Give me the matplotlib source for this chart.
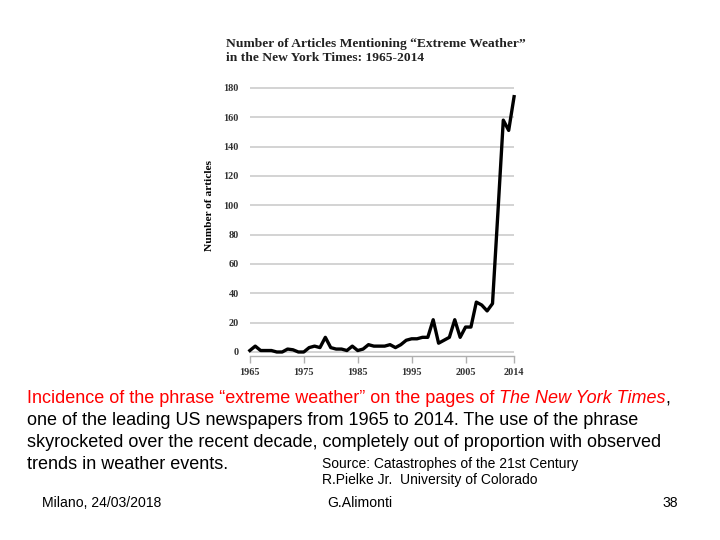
import numpy as np
import matplotlib
matplotlib.use("Agg")
import matplotlib.pyplot as plt

years = np.arange(1965, 2015)
counts = [1, 4, 1, 1, 1, 0, 0, 2, 1.5, 0,
          0, 3, 4, 3, 10, 3, 2, 2, 1, 4,
          1, 2, 5, 4, 4, 4, 5, 3, 5, 8,
          9, 9, 10, 10, 22, 6, 8, 10, 22, 10,
          17, 17, 34, 32, 28, 33, 95, 158, 151, 174]
xticks = [1965, 1975, 1985, 1995, 2005, 2014]
yticks = list(range(0, 181, 20))

serif = "Liberation Serif"
sans = "Liberation Sans"

fig = plt.figure(figsize=(7.2, 5.4), dpi=100)
ax = fig.add_axes([0.347, 0.340, 0.367, 0.500])

ax.plot(years, counts, color="black", lw=2.4, solid_joinstyle="round", zorder=3, clip_on=False)
ax.set_xlim(1965, 2014)
ax.set_ylim(-3, 181)
ax.set_xticks(xticks)
ax.set_yticks(yticks)
ax.yaxis.grid(True, color="#c8c8c8", lw=1.1)
ax.set_axisbelow(True)
for s in ["top", "right", "left"]:
    ax.spines[s].set_visible(False)
ax.spines["bottom"].set_color("#b0b0b0")
ax.spines["bottom"].set_linewidth(1.0)
ax.tick_params(axis="x", direction="out", length=5, color="#b0b0b0", width=1.0, pad=3)
ax.tick_params(axis="y", length=0, pad=8)
for lab in ax.get_xticklabels() + ax.get_yticklabels():
    lab.set_fontfamily(serif)
    lab.set_fontweight("bold")
    lab.set_fontsize(7.4)
    lab.set_color("#333333")
ax.set_ylabel("Number of articles", fontfamily=serif, fontweight="bold", fontsize=8.2)
ax.yaxis.set_label_coords(-0.135, 0.56)

fig.text(226 / 720, 1 - 51 / 540, "Number of Articles Mentioning \u201cExtreme Weather\u201d\nin the New York Times: 1965-2014",
         fontfamily=serif, fontweight="bold", fontsize=9.7, color="#222222", va="center", ha="left", linespacing=1.2)

# caption
fs = 13.0
t1 = fig.text(27 / 720, 1 - 407 / 540, "Incidence of the phrase \u201cextreme weather\u201d on the pages of ",
              fontfamily=sans, fontsize=fs, color="red", va="bottom")
t2 = fig.text(0, 0, "The New York Times", fontfamily=sans, fontsize=fs, color="red", style="italic", va="bottom")
t3 = fig.text(0, 0, ",", fontfamily=sans, fontsize=fs, color="black", va="bottom")
fig.canvas.draw()
r = fig.canvas.get_renderer()
bb = t1.get_window_extent(r)
t2.set_position((bb.x1 / 720, bb.y0 / 540))
bb2 = t2.get_window_extent(r)
t3.set_position((bb2.x1 / 720, bb.y0 / 540))

lines = ["one of the leading US newspapers from 1965 to 2014. The use of the phrase",
         "skyrocketed over the recent decade, completely out of proportion with observed",
         "trends in weather events."]
for i, ln in enumerate(lines):
    fig.text(27 / 720, 1 - (429 + 22 * i) / 540, ln, fontfamily=sans, fontsize=fs, color="black", va="bottom")

fig.text(322 / 720, 1 - 471 / 540, "Source: Catastrophes of the 21st Century", fontfamily=sans, fontsize=10.0, va="bottom")
fig.text(322 / 720, 1 - 487 / 540, "R.Pielke Jr.  University of Colorado", fontfamily=sans, fontsize=10.0, va="bottom")

fig.text(42 / 720, 1 - 510 / 540, "Milano, 24/03/2018", fontfamily=sans, fontsize=10.1, va="bottom")
fig.text(327 / 720, 1 - 510 / 540, "G.Alimonti", fontfamily=sans, fontsize=10.1, va="bottom")
fig.text(678 / 720, 1 - 510 / 540, "38", fontfamily=sans, fontsize=10.1, va="bottom", ha="right")

fig.savefig("out.png", dpi=100, facecolor="white")
